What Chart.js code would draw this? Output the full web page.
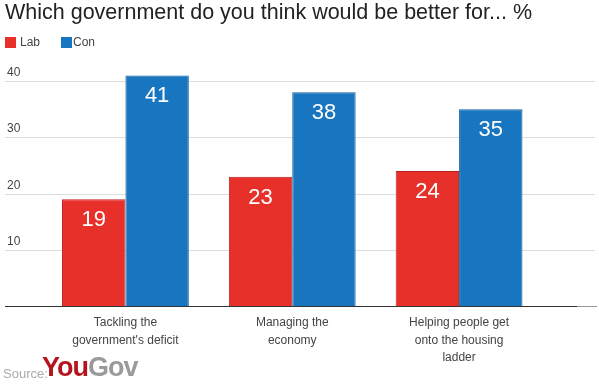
<!DOCTYPE html>
<html>
<head>
<meta charset="utf-8">
<script src="https://cdn.jsdelivr.net/npm/chart.js@4"></script>
<style>
    body { margin: 0; background: #fff; font-family: "Liberation Sans", Arial, sans-serif; }
    #wrap { position: relative; width: 599px; height: 391px; overflow: hidden; }
    #title { position: absolute; left: 5px; top: 0px; font-size: 21.5px; color: #222; white-space: nowrap; }
    .leg { position: absolute; top: 37px; width: 11px; height: 11px; }
    .legtxt { position: absolute; top: 35px; font-size: 12px; color: #444; }
    #source { position: absolute; left: 3px; top: 366px; font-size: 13px; color: #aaa; }
    #logo { position: absolute; left: 42px; top: 352px; font-size: 27px; font-weight: bold; letter-spacing: -1px; }
</style>
</head>
<body>
<div id="wrap">
    <canvas id="yougovChart" width="599" height="391"></canvas>
    <div id="title">Which government do you think would be better for... %</div>
    <div class="leg" style="left:5px; background:#E8302B;"></div>
    <div class="legtxt" style="left:20px;">Lab</div>
    <div class="leg" style="left:61px; background:#1876C0;"></div>
    <div class="legtxt" style="left:73px;">Con</div>
    <div id="source">Source:</div>
    <div id="logo"><span style="color:#B3141D;">You</span><span style="color:#9a9a9a;">Gov</span></div>
</div>
<script>
// Categories (multi-line labels) and values
var categories = [
    ["Tackling the", "government's deficit"],
    ["Managing the", "economy"],
    ["Helping people get", "onto the housing", "ladder"]
];
var labValues = [19, 23, 24];
var conValues = [41, 38, 35];
var yTicks = [10, 20, 30, 40];

// Gridlines, tick labels, bar labels and category labels
var decorPlugin = {
    id: 'decor',
    beforeDatasetsDraw: function (chart) {
        var ctx = chart.ctx;
        var y = chart.scales.y;
        ctx.save();
        ctx.strokeStyle = '#dddddd';
        ctx.lineWidth = 1;
        yTicks.forEach(function (t) {
            var py = Math.round(y.getPixelForValue(t)) + 0.5;
            ctx.beginPath();
            ctx.moveTo(5, py);
            ctx.lineTo(595, py);
            ctx.stroke();
        });
        ctx.restore();
    },
    afterDatasetsDraw: function (chart) {
        var ctx = chart.ctx;
        var x = chart.scales.x;
        var y = chart.scales.y;
        ctx.save();

        // baseline
        var by = Math.round(y.getPixelForValue(0)) + 0.5;
        ctx.lineWidth = 1;
        ctx.strokeStyle = '#333333';
        ctx.beginPath(); ctx.moveTo(5, by); ctx.lineTo(577, by); ctx.stroke();
        ctx.strokeStyle = '#999999';
        ctx.beginPath(); ctx.moveTo(577, by); ctx.lineTo(597, by); ctx.stroke();

        // y tick labels, above the gridlines
        ctx.fillStyle = '#444444';
        ctx.font = '12px "Liberation Sans", Arial, sans-serif';
        ctx.textAlign = 'left';
        ctx.textBaseline = 'alphabetic';
        yTicks.forEach(function (t) {
            ctx.fillText(String(t), 7, y.getPixelForValue(t) - 5);
        });

        // values inside bars
        ctx.fillStyle = '#ffffff';
        ctx.font = '22px "Liberation Sans", Arial, sans-serif';
        ctx.textAlign = 'center';
        chart.data.datasets.forEach(function (ds, di) {
            chart.getDatasetMeta(di).data.forEach(function (bar, i) {
                ctx.fillText(String(ds.data[i]), bar.x, bar.y + 27);
            });
        });

        // category labels
        ctx.fillStyle = '#444444';
        ctx.font = '12px "Liberation Sans", Arial, sans-serif';
        categories.forEach(function (lines, i) {
            var cx = x.getPixelForValue(i);
            lines.forEach(function (line, j) {
                ctx.fillText(line, cx, 326 + j * 17.5);
            });
        });
        ctx.restore();
    }
};

var ctx = document.getElementById('yougovChart').getContext('2d');
var yougovChart = new Chart(ctx, {
    type: 'bar',
    data: {
        labels: categories,
        datasets: [{
            label: 'Lab',
            data: labValues,
            backgroundColor: '#E8302B',
            borderColor: '#B8231F',
            borderWidth: 1
        }, {
            label: 'Con',
            data: conValues,
            backgroundColor: '#1876C0',
            borderColor: '#0F5C9C',
            borderWidth: 1
        }]
    },
    options: {
        responsive: false,
        animation: false,
        layout: {
            padding: { left: 42, right: 56.5, top: 53, bottom: 85 }
        },
        scales: {
            x: { display: false, offset: true },
            y: { display: false, min: 0, max: 45 }
        },
        plugins: {
            legend: { display: false },
            tooltip: { enabled: false }
        },
        categoryPercentage: 0.76,
        barPercentage: 1
    },
    plugins: [decorPlugin]
});
</script>
</body>
</html>
